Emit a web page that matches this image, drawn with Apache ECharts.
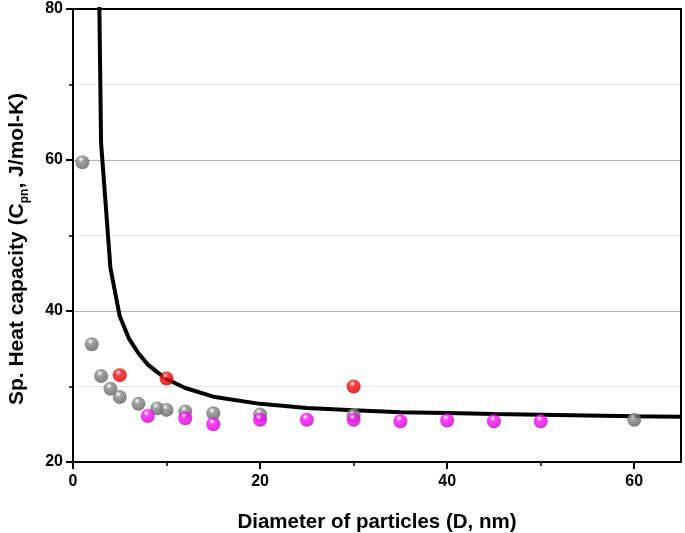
<!DOCTYPE html>
<html>
<head>
<meta charset="utf-8">
<script src="https://cdn.jsdelivr.net/npm/echarts@6/dist/echarts.min.js"></script>
<style>html,body{margin:0;padding:0;background:#fff}#c{width:685px;height:533px}</style>
</head>
<body>
<div id="c"></div>
<script>
// Data
var curveD = [2.8, 3, 4, 5, 6, 7, 8, 9, 10, 12, 15, 20, 25, 30, 35, 40, 45, 50, 55, 60, 65];
var curveC = [82, 62.3, 45.7, 39.3, 36.3, 34.4, 32.9, 31.9, 31.0, 29.8, 28.65, 27.7, 27.15, 26.85, 26.6, 26.5, 26.35, 26.25, 26.15, 26.05, 26.0];

var grayD = [1, 2, 3, 4, 5, 7, 9, 10, 12, 15, 20, 30, 60];
var grayC = [59.7, 35.6, 31.4, 29.7, 28.6, 27.7, 27.1, 26.9, 26.7, 26.45, 26.3, 26.2, 25.6];

var redD = [5, 10, 30];
var redC = [31.5, 31.05, 30.0];

var magD = [8, 12, 15, 20, 25, 30, 35, 40, 45, 50];
var magC = [26.1, 25.8, 25.0, 25.6, 25.6, 25.6, 25.4, 25.5, 25.4, 25.4];

var xTicks = [0, 20, 40, 60];
var yTicks = [20, 40, 60, 80];

function zip(a, b) { return a.map(function (v, i) { return [v, b[i]]; }); }
function sphere(base, dark) {
  return {
    type: 'radial', x: 0.4, y: 0.3, r: 0.75,
    colorStops: [
      { offset: 0, color: '#ffffff' },
      { offset: 0.28, color: base },
      { offset: 1, color: dark }
    ]
  };
}

var FONT = 'Liberation Sans, Arial, sans-serif';
var chart = echarts.init(document.getElementById('c'));
chart.setOption({
  animation: false,
  backgroundColor: '#ffffff',
  grid: { left: 73, right: 4, top: 9, bottom: 71, show: false, containLabel: false, outerBoundsMode: 'none' },
  xAxis: [{
    type: 'value', min: 0, max: 65, interval: 20,
    name: 'Diameter of particles (D, nm)',
    nameLocation: 'middle', nameGap: 50,
    nameTextStyle: { fontFamily: FONT, fontWeight: 'bold', fontSize: 20.5, color: '#000' },
    axisLine: { show: true, onZero: false, lineStyle: { color: '#000', width: 2 } },
    axisTick: { show: true, length: 7, lineStyle: { color: '#000', width: 2 },
      customValues: xTicks },
    minorTick: { show: true, splitNumber: 2, length: 4, lineStyle: { color: '#000', width: 1.5 } },
    axisLabel: { fontFamily: FONT, fontWeight: 'bold', fontSize: 16, color: '#000', margin: 12,
      customValues: xTicks },
    splitLine: { show: false }
  }, {
    type: 'value', min: 0, max: 65, position: 'top',
    axisLine: { show: true, onZero: false, lineStyle: { color: '#000', width: 2 } },
    axisTick: { show: false }, axisLabel: { show: false }, splitLine: { show: false }
  }],
  yAxis: [{
    type: 'value', min: 20, max: 80, interval: 20,
    name: '{a|Sp. Heat capacity (C}{s|pn}{a|, J/mol-K)}',
    nameLocation: 'middle', nameGap: 42,
    nameTextStyle: {
      fontFamily: FONT, fontWeight: 'bold', fontSize: 21, color: '#000',
      padding: [0, 27, 0, 0],
      rich: {
        a: { fontFamily: FONT, fontWeight: 'bold', fontSize: 21, color: '#000', lineHeight: 28, verticalAlign: 'middle' },
        s: { fontFamily: FONT, fontWeight: 'bold', fontSize: 12, color: '#000', lineHeight: 12, verticalAlign: 'bottom' }
      }
    },
    axisLine: { show: true, onZero: false, lineStyle: { color: '#000', width: 2 } },
    axisTick: { show: true, length: 7, lineStyle: { color: '#000', width: 2 },
      customValues: yTicks },
    minorTick: { show: true, splitNumber: 2, length: 4, lineStyle: { color: '#000', width: 1.5 } },
    axisLabel: { fontFamily: FONT, fontWeight: 'bold', fontSize: 16, color: '#000', margin: 10,
      customValues: yTicks },
    splitLine: { show: true, lineStyle: { color: '#b4b4b4', width: 1 } },
    minorSplitLine: { show: true, lineStyle: { color: '#e8e8e8', width: 1 } }
  }, {
    type: 'value', min: 20, max: 80, position: 'right',
    axisLine: { show: true, onZero: false, lineStyle: { color: '#000', width: 2 } },
    axisTick: { show: false }, axisLabel: { show: false }, splitLine: { show: false }
  }],
  series: [{
    type: 'line', data: zip(curveD, curveC), showSymbol: false, symbol: 'none',
    lineStyle: { color: '#000', width: 4 }, clip: true, z: 2
  }, {
    type: 'scatter', data: zip(grayD, grayC), symbolSize: 14,
    itemStyle: { color: sphere('#8a8a8a', '#5a5a5a') }, z: 3
  }, {
    type: 'scatter', data: zip(redD, redC), symbolSize: 14,
    itemStyle: { color: sphere('#ff1010', '#c00000') }, z: 4
  }, {
    type: 'scatter', data: zip(magD, magC), symbolSize: 14,
    itemStyle: { color: sphere('#ff10ff', '#c000c0') }, z: 5
  }]
});
</script>
</body>
</html>
